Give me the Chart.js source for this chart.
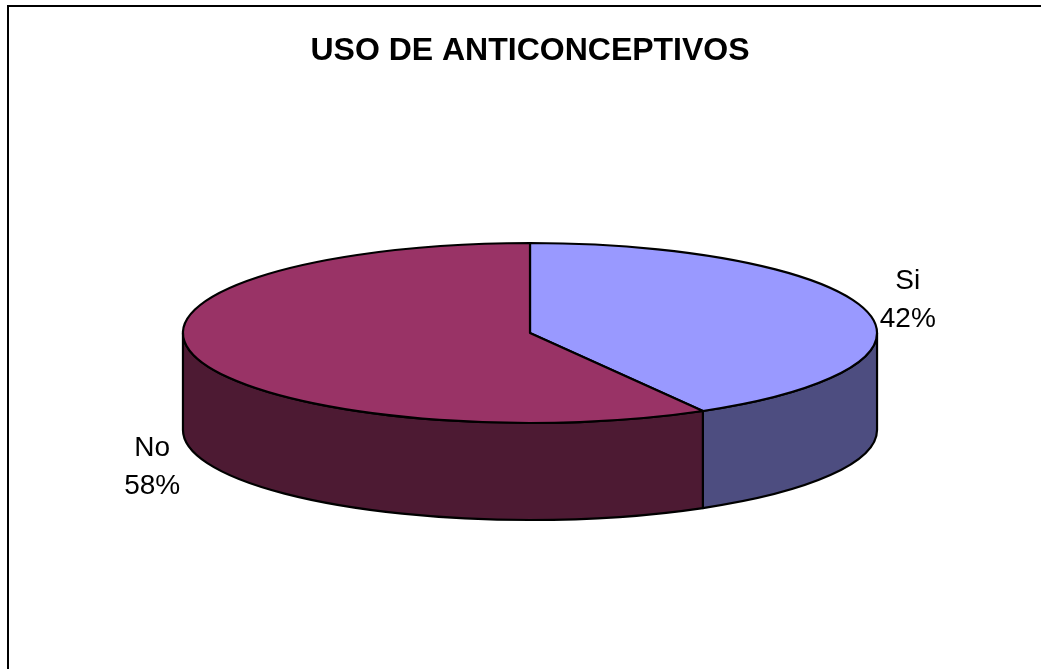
<!DOCTYPE html>
<html><head><meta charset="utf-8">
<script src="https://cdn.jsdelivr.net/npm/chart.js@4.4.1/dist/chart.umd.min.js"></script>
<style>html,body{margin:0;padding:0;background:#fff;overflow:hidden}canvas{display:block}</style>
</head><body>
<canvas id="c" width="1041" height="669"></canvas>
<script>
const TITLE = 'USO DE ANTICONCEPTIVOS';
const categories = ['Si', 'No'];
const values = [41.7, 58.3];
const topColors = ['#9999FF', '#993366'];
const sideColors = ['#4D4D80', '#4D1A33'];
const FONT = '"Liberation Sans", Arial, sans-serif';
const ASPECT = 3.856;   // horizontal stretch of the tilted ellipse
const DEPTH = 1.078;    // wall height relative to vertical radius
const LABEL_GAP = 44;

const frame = {
  id: 'frame',
  beforeDraw(chart) {
    const ctx = chart.ctx;
    ctx.save();
    ctx.fillStyle = '#fff';
    ctx.fillRect(0, 0, chart.width, chart.height);
    ctx.strokeStyle = '#000';
    ctx.lineWidth = 2;
    ctx.strokeRect(8, 6, chart.width + 50, chart.height + 50);
    ctx.restore();
  }
};

const pie3d = {
  id: 'pie3d',
  beforeDatasetDraw() { return false; },
  afterDatasetsDraw(chart) {
    const ctx = chart.ctx;
    const meta = chart.getDatasetMeta(0);
    const arcs = meta.data;
    if (!arcs.length) return;
    const cx = arcs[0].x, cy = arcs[0].y;
    const ry = arcs[0].outerRadius;
    const rx = ry * ASPECT;
    const d = ry * DEPTH;
    const P = (t) => [cx + rx * Math.cos(t), cy + ry * Math.sin(t)];
    ctx.save();
    ctx.lineWidth = 2.2;
    ctx.strokeStyle = '#000';
    ctx.lineJoin = 'round';
    // walls (front half: angles 0..PI modulo 2PI)
    arcs.forEach((a, i) => {
      const segs = [];
      for (let k = -1; k <= 1; k++) {
        const lo = Math.max(a.startAngle, 0 + 2 * Math.PI * k);
        const hi = Math.min(a.endAngle, Math.PI + 2 * Math.PI * k);
        if (hi > lo) segs.push([lo, hi]);
      }
      segs.forEach(([lo, hi]) => {
        ctx.beginPath();
        ctx.ellipse(cx, cy, rx, ry, 0, lo, hi, false);
        const pb = P(hi);
        ctx.lineTo(pb[0], pb[1] + d);
        ctx.ellipse(cx, cy + d, rx, ry, 0, hi, lo, true);
        ctx.closePath();
        ctx.fillStyle = sideColors[i];
        ctx.fill();
        ctx.stroke();
      });
    });
    // top faces
    arcs.forEach((a, i) => {
      ctx.beginPath();
      ctx.moveTo(cx, cy);
      ctx.ellipse(cx, cy, rx, ry, 0, a.startAngle, a.endAngle, false);
      ctx.closePath();
      ctx.fillStyle = topColors[i];
      ctx.fill();
      ctx.stroke();
    });
    // labels
    const total = values.reduce((s, v) => s + v, 0);
    ctx.fillStyle = '#000';
    ctx.font = '28px ' + FONT;
    ctx.textAlign = 'center';
    ctx.textBaseline = 'alphabetic';
    arcs.forEach((a, i) => {
      const m = (a.startAngle + a.endAngle) / 2;
      const p = P(m);
      let lx = p[0] + LABEL_GAP * Math.cos(m);
      let ly = p[1] + LABEL_GAP * Math.sin(m);
      if (Math.sin(m) > 0) ly += d;
      const pct = Math.round(values[i] / total * 100) + '%';
      ctx.fillText(categories[i], lx, ly - 19 + 10);
      ctx.fillText(pct, lx, ly + 19 + 10);
    });
    ctx.restore();
  }
};

new Chart(document.getElementById('c'), {
  type: 'pie',
  data: {
    labels: categories,
    datasets: [{ data: values, backgroundColor: topColors, borderWidth: 0, hoverOffset: 0, offset: 0 }]
  },
  options: {
    responsive: false,
    devicePixelRatio: 1,
    animation: false,
    events: [],
    layout: { padding: { left: 19, right: 0, top: 0, bottom: 246 } },
    plugins: {
      legend: { display: false },
      tooltip: { enabled: false },
      title: {
        display: true,
        text: TITLE,
        color: '#000',
        font: { family: FONT, size: 32, weight: 'bold', lineHeight: 1.2 },
        padding: { top: 32, bottom: 172.6 }
      }
    }
  },
  plugins: [frame, pie3d]
});
</script>
</body></html>
